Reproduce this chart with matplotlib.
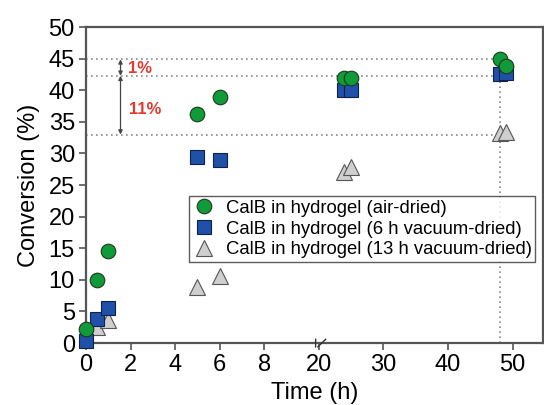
import matplotlib.pyplot as plt
import numpy as np

plt.rcParams["font.family"] = ["Liberation Sans", "DejaVu Sans"]

# reaction time (h)
time = np.array([0, 0.5, 1, 5, 6, 24, 25, 48, 49])
time_13h = np.array([0.5, 1, 5, 6, 24, 25, 48, 49])

# conversion (%)
air_dried = np.array([2.3, 10.0, 14.6, 36.2, 39.0, 41.9, 42.0, 44.9, 43.9])
vac_6h = np.array([0.4, 3.8, 5.6, 29.4, 29.0, 40.0, 40.1, 42.6, 42.7])
vac_13h = np.array([2.6, 3.7, 8.8, 10.6, 27.1, 27.8, 33.2, 33.4])

ref_levels = [44.9, 42.3, 33.0]
ref_time = 48
diff_labels = ["1%", "11%"]

xticks = [0, 2, 4, 6, 8, 20, 30, 40, 50]
yticks = np.arange(0, 51, 5)

# broken time axis: 0-10.3 h linear, then 19.55 h onwards compressed
B1, B2, K = 10.3, 19.55, 0.29


def fwd(x):
    x = np.asarray(x, dtype=float)
    return np.where(x <= B1, x,
                    np.where(x < B2, B1 + (x - B1) * 1e-4, B1 + (B2 - B1) * 1e-4 + (x - B2) * K))


def inv(u):
    u = np.asarray(u, dtype=float)
    u2 = B1 + (B2 - B1) * 1e-4
    return np.where(u <= B1, u,
                    np.where(u < u2, B1 + (u - B1) / 1e-4, B2 + (u - u2) / K))


fig = plt.figure(figsize=(5.44, 4.05), dpi=100)
ax = fig.add_axes([0.158, 0.153, 0.84, 0.78])
ax.set_xscale("function", functions=(fwd, inv))
ax.set_xlim(0, 54.7)
ax.set_ylim(0, 50)

dot = dict(color="#8a8a8a", lw=1.2, ls=(0, (1, 2)), zorder=1)
for lv in ref_levels:
    ax.plot([0, ref_time], [lv, lv], **dot)
ax.plot([ref_time, ref_time], [0, ref_levels[0]], **dot)

ax.plot(time, air_dried, "o", ms=10.5, mfc="#119a3a", mec="#1a3a1a", mew=0.8,
        clip_on=False, zorder=5, label="CalB in hydrogel (air-dried)")
ax.plot(time, vac_6h, "s", ms=10, mfc="#1f51a8", mec="#10214a", mew=0.8,
        clip_on=False, zorder=4, label="CalB in hydrogel (6 h vacuum-dried)")
ax.plot(time_13h, vac_13h, "^", ms=12, mfc="#cfcfcf", mec="#555555", mew=0.8,
        clip_on=False, zorder=3, label="CalB in hydrogel (13 h vacuum-dried)")

# difference arrows
ax_x = 1.55
arrow = dict(arrowstyle="<|-|>", color="#444444", lw=0.9, mutation_scale=6,
             shrinkA=0, shrinkB=0)
ax.annotate("", xy=(ax_x, ref_levels[0]), xytext=(ax_x, ref_levels[1]), arrowprops=arrow)
ax.annotate("", xy=(ax_x, ref_levels[1]), xytext=(ax_x, ref_levels[2]), arrowprops=arrow)
ax.text(1.9, 43.5, diff_labels[0], color="#e03a2e", fontsize=12, fontweight="bold", va="center")
ax.text(1.95, 37.0, diff_labels[1], color="#e03a2e", fontsize=12, fontweight="bold", va="center")

# axis break marks
trans = ax.get_xaxis_transform()
for bx in [18.3, 20.5]:
    ax.plot([bx - 0.6, bx + 0.6], [-0.012, 0.012], color="#333333", lw=1.0,
            transform=trans, clip_on=False, zorder=6)

ax.set_xticks(xticks)
ax.set_xticklabels([str(t) for t in xticks])
ax.set_yticks(yticks)
ax.tick_params(labelsize=17, length=5, width=1.2, color="#555555", direction="out", pad=3)
for s in ax.spines.values():
    s.set_color("#555555")
    s.set_linewidth(1.6)

ax.set_xlabel("Time (h)", fontsize=17, labelpad=4)
ax.set_ylabel("Conversion (%)", fontsize=17, labelpad=6)

leg = ax.legend(loc="upper left", bbox_to_anchor=(0.225, 0.465), fontsize=13.3,
                frameon=True, fancybox=False, handletextpad=0.5, borderpad=0.2,
                labelspacing=0.2, borderaxespad=0, handlelength=1.3)
leg.get_frame().set_edgecolor("#333333")
leg.get_frame().set_linewidth(1.0)

fig.savefig("out.png", dpi=100)
